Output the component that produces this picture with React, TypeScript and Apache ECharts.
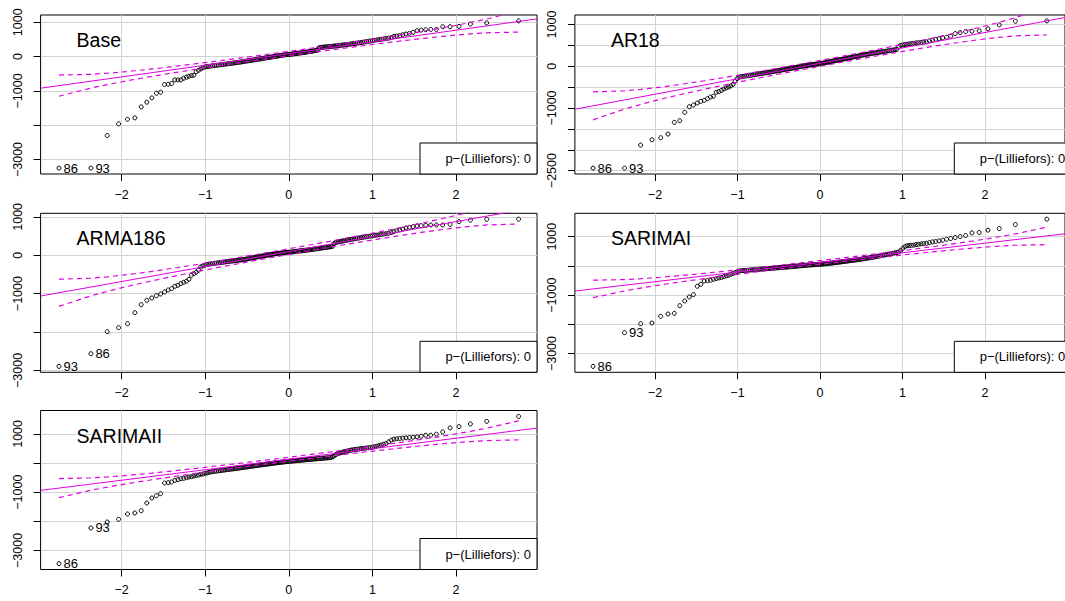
import React, { useEffect, useRef } from "react";
import * as echarts from "echarts";

// ---------------- data (sorted residuals) ----------------
const panelTitles = ["Base", "AR18", "ARMA186", "SARIMAI", "SARIMAII"];

const baseValues = [
  -3250, -3250, -2300, -1960, -1825, -1786, -1466, -1330, -1204, -1068, -1039, -815, -806, -786, -680, -680, -680, -630, -600, -573, -553, -544, -440, -400, -360, -330, -300, -290,
  -285, -275, -268, -262, -255, -248, -240, -233, -226, -220, -214, -207,
  -200, -194, -188, -182, -176, -170, -164, -158, -150, -143,
  -137, -130, -123, -117, -110, -104, -98, -90, -84, -78,
  -72, -66, -60, -53, -47, -41, -35, -29, -22, -16,
  -10, -4, 2, 8, 14, 20, 26, 32, 37, 43,
  48, 53, 57, 60, 63, 68, 73, 78, 82, 87,
  92, 97, 102, 107, 112, 118, 123, 128, 133, 140,
  146, 152, 158, 165, 172, 178, 185, 250, 262, 268,
  272, 276, 280, 284, 288, 292, 296, 300, 305, 310,
  315, 320, 325, 330, 335, 341, 347, 353, 360, 366,
  373, 380, 387, 394, 401, 410, 418, 427, 436, 445,
  455, 465, 475, 485, 495, 505, 515, 525, 538, 552,
  589, 599, 609, 638, 657, 676, 705, 754, 773, 783, 792, 792, 870, 870, 879, 947, 980, 1040,
];

const ar18Values = [
  -2440, -2440, -1888, -1760, -1712, -1624, -1344, -1304, -1104, -968, -928, -880, -840, -816, -776, -736, -720, -624, -608, -576, -544, -520, -496, -472, -432, -360, -296, -264,
  -250, -242, -236, -229, -222, -215, -208, -201, -195, -188, -182, -176,
  -170, -164, -158, -152, -146, -140, -134, -128, -122, -116,
  -110, -104, -98, -92, -86, -80, -74, -68, -62, -56,
  -50, -45, -40, -34, -28, -22, -16, -10, -4, 2,
  7, 12, 17, 22, 27, 31, 35, 39, 43, 47,
  50, 54, 57, 61, 65, 70, 76, 82, 88, 94,
  100, 106, 112, 118, 124, 130, 136, 142, 148, 154,
  160, 166, 172, 178, 184, 190, 197, 204, 211, 218,
  224, 230, 236, 242, 250, 258, 265, 272, 278, 284,
  290, 296, 302, 308, 314, 320, 326, 332, 338, 344,
  350, 356, 362, 368, 375, 382, 390, 398, 406, 470,
  500, 512, 520, 528, 536, 544, 552, 560, 566, 572,
  578, 584, 608, 624, 648, 664, 680, 696, 720, 784, 808, 832, 840, 848, 896, 992, 1080, 1088,
];

const arma186Values = [
  -2896, -2565, -1991, -1887, -1783, -1496, -1287, -1174, -1113, -1052, -1009, -957, -904, -870, -809, -783, -739, -704, -678, -626, -522, -478, -443, -391, -304, -278, -261, -243,
  -232, -225, -218, -211, -204, -198, -192, -186, -180, -174, -168, -162,
  -157, -152, -147, -142, -137, -132, -127, -122, -117, -112,
  -105, -98, -91, -84, -77, -70, -63, -56, -49, -42,
  -36, -30, -24, -18, -12, -6, 0, 6, 12, 18,
  23, 28, 33, 38, 43, 47, 51, 55, 59, 63,
  66, 69, 72, 75, 78, 82, 86, 90, 94, 98,
  102, 106, 110, 114, 118, 122, 126, 130, 134, 138,
  143, 148, 153, 158, 163, 168, 173, 178, 183, 188,
  193, 198, 203, 208, 213, 218, 223, 230, 300, 330,
  340, 348, 356, 364, 372, 380, 388, 396, 404, 412,
  420, 428, 436, 444, 452, 460, 468, 476, 484, 492,
  500, 508, 516, 524, 532, 542, 552, 562, 575, 590,
  615, 640, 658, 684, 710, 727, 745, 762, 770, 779, 788, 788, 788, 805, 874, 913, 935, 939,
];

const sarimaIValues = [
  -3440, -2286, -1977, -1954, -1726, -1646, -1623, -1360, -1200, -1063, -983, -697, -629, -514, -503, -491, -457, -434, -411, -400, -366, -343, -320, -286, -263, -229, -194, -171,
  -165, -160, -155, -150, -145, -140, -135, -130, -125, -120, -115, -110,
  -106, -102, -98, -94, -90, -86, -82, -78, -74, -70,
  -66, -62, -58, -54, -50, -46, -42, -38, -34, -30,
  -26, -22, -18, -14, -10, -6, -2, 2, 6, 10,
  14, 18, 22, 26, 30, 33, 36, 39, 42, 45,
  48, 51, 54, 57, 60, 64, 68, 72, 76, 80,
  85, 90, 95, 100, 105, 110, 115, 120, 125, 130,
  136, 142, 148, 154, 160, 166, 172, 178, 184, 190,
  196, 202, 208, 214, 220, 228, 236, 244, 252, 260,
  268, 276, 284, 292, 300, 310, 320, 330, 340, 350,
  362, 374, 386, 398, 410, 422, 434, 446, 458, 480,
  530, 600, 660, 690, 700, 706, 712, 731, 743, 754,
  766, 777, 800, 823, 834, 857, 880, 914, 937, 971, 1006, 1040, 1131, 1143, 1223, 1280, 1417, 1600,
];

const sarimaIIValues = [
  -3451, -2229, -2023, -1931, -1749, -1714, -1634, -1371, -1200, -1120, -1051, -686, -674, -651, -594, -571, -537, -526, -503, -480, -469, -446, -423, -411, -389, -377, -354, -343,
  -320, -305, -295, -285, -276, -268, -260, -252, -244, -236, -228, -220,
  -213, -206, -199, -192, -185, -178, -171, -164, -157, -150,
  -143, -136, -129, -122, -115, -108, -101, -94, -87, -80,
  -74, -68, -62, -56, -50, -44, -38, -32, -26, -20,
  -14, -8, -2, 4, 10, 15, 20, 25, 30, 35,
  40, 45, 50, 55, 60, 64, 68, 72, 76, 80,
  84, 88, 92, 96, 100, 104, 108, 112, 116, 120,
  124, 128, 132, 136, 140, 144, 148, 152, 156, 160,
  164, 168, 172, 176, 180, 186, 195, 210, 240, 280,
  310, 330, 345, 360, 375, 388, 401, 414, 427, 440,
  450, 460, 468, 476, 484, 492, 500, 508, 516, 524,
  532, 545, 560, 580, 600, 620, 645, 670, 727, 784,
  818, 830, 841, 852, 864, 875, 886, 898, 920, 955, 955, 989, 1068, 1205, 1250, 1341, 1429, 1600,
];

const panelValues = [baseValues, ar18Values, arma186Values, sarimaIValues, sarimaIIValues];

// reference line (robust quartile fit) per panel
const lineIntercepts = [88, 70, 95, 120, 130];
const lineSlopes = [340, 370, 390, 330, 360];

// labels of the two most extreme points (lowest first)
const extremeLabels = [
  ["86", "93"],
  ["86", "93"],
  ["93", "86"],
  ["86", "93"],
  ["86", "93"],
];

const xTickValues = [-2, -1, 0, 1, 2];
const yTickValues = [
  [-3000, -2000, -1000, 0, 1000],
  [-2500, -2000, -1500, -1000, -500, 0, 500, 1000],
  [-3000, -2000, -1000, 0, 1000],
  [-3000, -2000, -1000, 0, 1000],
  [-3000, -2000, -1000, 0, 1000],
];
const yLabelValues = [
  [-3000, -1000, 0, 1000],
  [-2500, -1000, 0, 1000],
  [-3000, -1000, 0, 1000],
  [-3000, -1000, 1000],
  [-3000, -1000, 1000],
];
const legendText = "p\u2212(Lilliefors): 0";

// ---------------- layout / style ----------------
const FONT = "'Liberation Sans', Arial, Helvetica, sans-serif";
const MAGENTA = "#E000E0";
const GRID_W = 496.4;
const GRID_H = 159;
const LEFTS = [40.6, 574.9, 40.6, 574.9, 40.6];
const TOPS = [15, 15, 213.3, 213.3, 410.5];

function qnorm(p: number): number {
  const a = [-3.969683028665376e1, 2.209460984245205e2, -2.759285104469687e2, 1.38357751867269e2, -3.066479806614716e1, 2.506628277459239];
  const b = [-5.447609879822406e1, 1.615858368580409e2, -1.556989798598866e2, 6.680131188771972e1, -1.328068155288572e1];
  const c = [-7.784894002430293e-3, -3.223964580411365e-1, -2.400758277161838, -2.549732539343734, 4.374664141464968, 2.938163982698783];
  const d = [7.784695709041462e-3, 3.224671290700398e-1, 2.445134137142996, 3.754408661907416];
  const pl = 0.02425;
  if (p < pl) {
    const q = Math.sqrt(-2 * Math.log(p));
    return (((((c[0] * q + c[1]) * q + c[2]) * q + c[3]) * q + c[4]) * q + c[5]) / ((((d[0] * q + d[1]) * q + d[2]) * q + d[3]) * q + 1);
  }
  if (p > 1 - pl) {
    const q = Math.sqrt(-2 * Math.log(1 - p));
    return -(((((c[0] * q + c[1]) * q + c[2]) * q + c[3]) * q + c[4]) * q + c[5]) / ((((d[0] * q + d[1]) * q + d[2]) * q + d[3]) * q + 1);
  }
  const q = p - 0.5;
  const r = q * q;
  return ((((((a[0] * r + a[1]) * r + a[2]) * r + a[3]) * r + a[4]) * r + a[5]) * q) / (((((b[0] * r + b[1]) * r + b[2]) * r + b[3]) * r + b[4]) * r + 1);
}
function dnorm(z: number): number {
  return Math.exp(-0.5 * z * z) / Math.sqrt(2 * Math.PI);
}
const fmt = (v: number) => (v < 0 ? "\u2212" + Math.abs(v) : String(v));

function buildOption() {
  const grid: any[] = [];
  const xAxis: any[] = [];
  const yAxis: any[] = [];
  const series: any[] = [];
  const graphic: any[] = [];

  panelValues.forEach((ys, k) => {
    const n = ys.length;
    const probs = ys.map((_, i) => (i + 0.5) / n);
    const xs = probs.map((p) => qnorm(p));
    const xr = xs[n - 1] - xs[0];
    const xmin = xs[0] - 0.04 * xr;
    const xmax = xs[n - 1] + 0.04 * xr;
    const ylo = Math.min(...ys);
    const yhi = Math.max(...ys);
    const yr = yhi - ylo;
    const ymin = ylo - 0.04 * yr;
    const ymax = yhi + 0.04 * yr;
    const a = lineIntercepts[k];
    const b = lineSlopes[k];
    const left = LEFTS[k];
    const top = TOPS[k];

    grid.push({
      left,
      top,
      width: GRID_W,
      height: GRID_H,
      show: true,
      borderColor: "#000",
      borderWidth: 1,
      backgroundColor: "transparent",
    });
    xAxis.push({
      gridIndex: k,
      type: "value",
      min: xmin,
      max: xmax,
      axisLine: { show: false, onZero: false },
      axisTick: { show: true, customValues: xTickValues, length: 7, lineStyle: { color: "#000", width: 1 } },
      axisLabel: { customValues: xTickValues, formatter: fmt, margin: 14, fontSize: 12.5, color: "#000", fontFamily: FONT },
      splitLine: { show: true, lineStyle: { color: "#D3D3D3", width: 1 } },
    });
    yAxis.push({
      gridIndex: k,
      type: "value",
      min: ymin,
      max: ymax,
      axisLine: { show: false, onZero: false },
      axisTick: { show: true, customValues: yTickValues[k], length: 7, lineStyle: { color: "#000", width: 1 } },
      axisLabel: {
        customValues: yLabelValues[k],
        formatter: fmt,
        rotate: 90,
        margin: 16,
        fontSize: 12.5,
        color: "#000",
        fontFamily: FONT,
      },
      splitLine: { show: true, lineStyle: { color: "#D3D3D3", width: 1 } },
    });

    series.push({
      type: "scatter",
      xAxisIndex: k,
      yAxisIndex: k,
      symbol: "circle",
      symbolSize: 4,
      silent: true,
      z: 2,
      itemStyle: { color: "rgba(0,0,0,0)", borderColor: "#000", borderWidth: 1, opacity: 1 },
      data: xs.map((x, i) =>
        i < 2
          ? {
              value: [x, ys[i]],
              label: {
                show: true,
                formatter: extremeLabels[k][i],
                position: "right",
                distance: 2,
                color: "#000",
                fontSize: 13,
                fontFamily: FONT,
              },
            }
          : [x, ys[i]]
      ),
    });
    series.push({
      type: "line",
      xAxisIndex: k,
      yAxisIndex: k,
      symbol: "none",
      silent: true,
      z: 3,
      lineStyle: { color: MAGENTA, width: 1 },
      data: [
        [xmin, a + b * xmin],
        [xmax, a + b * xmax],
      ],
    });
    const se = xs.map((z, i) => (b / dnorm(z)) * Math.sqrt((probs[i] * (1 - probs[i])) / n));
    series.push({
      type: "line",
      xAxisIndex: k,
      yAxisIndex: k,
      symbol: "none",
      silent: true,
      z: 3,
      lineStyle: { color: MAGENTA, width: 1.2, type: [5, 4] },
      data: xs.map((z, i) => [z, a + b * z + 1.96 * se[i]]),
    });
    series.push({
      type: "line",
      xAxisIndex: k,
      yAxisIndex: k,
      symbol: "none",
      silent: true,
      z: 3,
      lineStyle: { color: MAGENTA, width: 1.2, type: [5, 4] },
      data: xs.map((z, i) => [z, a + b * z - 1.96 * se[i]]),
    });

    graphic.push({
      type: "text",
      x: left + 36,
      y: top + 25,
      z: 100,
      silent: true,
      style: { text: panelTitles[k], fontSize: 19.5, fontFamily: FONT, fill: "#000", align: "left", verticalAlign: "middle" },
    });
    const bw = 117;
    const bh = 31;
    graphic.push({
      type: "rect",
      z: 100,
      silent: true,
      shape: { x: left + GRID_W - bw, y: top + GRID_H - bh, width: bw, height: bh },
      style: { fill: "#fff", stroke: "#000", lineWidth: 1 },
    });
    graphic.push({
      type: "text",
      x: left + GRID_W - 6,
      y: top + GRID_H - bh / 2,
      z: 101,
      silent: true,
      style: { text: legendText, fontSize: 13, fontFamily: FONT, fill: "#000", align: "right", verticalAlign: "middle" },
    });
  });

  return {
    animation: false,
    backgroundColor: "#fff",
    grid,
    xAxis,
    yAxis,
    series,
    graphic,
  };
}

export default function App() {
  const ref = useRef<HTMLDivElement | null>(null);
  useEffect(() => {
    document.body.style.margin = "0";
    document.body.style.overflow = "hidden";
    if (!ref.current) return;
    const chart = echarts.init(ref.current, null, { renderer: "svg" });
    chart.setOption(buildOption());
    return () => chart.dispose();
  }, []);
  return <div ref={ref} style={{ width: 1065, height: 601, background: "#fff" }} />;
}
